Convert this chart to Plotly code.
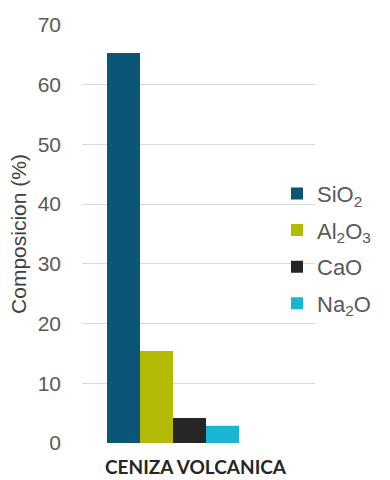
import plotly.graph_objects as go

# Composition of volcanic ash (weight %)
categories = ["CENIZA VOLCANICA"]
oxides = ["SiO<sub>2</sub>", "Al<sub>2</sub>O<sub>3</sub>", "CaO", "Na<sub>2</sub>O"]
values = [65.3, 15.4, 4.2, 2.9]
colors = ["#0b5577", "#b4bb06", "#262626", "#18b6d3"]
y_ticks = [0, 10, 20, 30, 40, 50, 60, 70]

fig = go.Figure()
for i, (name, val, col) in enumerate(zip(oxides, values, colors)):
    fig.add_trace(go.Bar(
        x=categories, y=[val], name=name,
        marker=dict(color=col, line=dict(width=0)),
        legendgroup=f"g{i}",
    ))

fig.update_layout(
    width=390, height=480,
    margin=dict(l=82, r=75, t=25, b=37, autoexpand=False),
    paper_bgcolor="white", plot_bgcolor="white",
    barmode="group", bargap=0.2, bargroupgap=0,
    font=dict(family="Liberation Sans, Arial, sans-serif", color="#595959"),
    showlegend=True,
    legend=dict(
        x=(277 - 82) / 233, xanchor="left", y=0.465, yanchor="middle",
        font=dict(size=22, color="#595959"),
        bgcolor="rgba(0,0,0,0)",
        tracegroupgap=5,
    ),
    xaxis=dict(
        type="category",
        range=[-0.5515, 0.8606],
        showticklabels=False, showgrid=False, zeroline=False,
        showline=False, ticks="",
    ),
    yaxis=dict(
        range=[0, 70], tickvals=y_ticks,
        showgrid=True, gridcolor="#d9d9d9", gridwidth=1,
        zeroline=False, showline=False, ticks="",
        tickfont=dict(size=21, color="#595959"),
        ticklabelstandoff=20,
        title=dict(text="Composicion (%)", font=dict(size=21, color="#404040"), standoff=5),
    ),
    annotations=[dict(
        text="<b>" + categories[0] + "</b>",
        xref="paper", yref="paper",
        x=(196 - 82) / 233, y=-0.024, yanchor="top", xanchor="center",
        showarrow=False,
        font=dict(family="Lato, sans-serif", size=19, color="#262626"),
    )],
)

fig.write_html("out.html")
